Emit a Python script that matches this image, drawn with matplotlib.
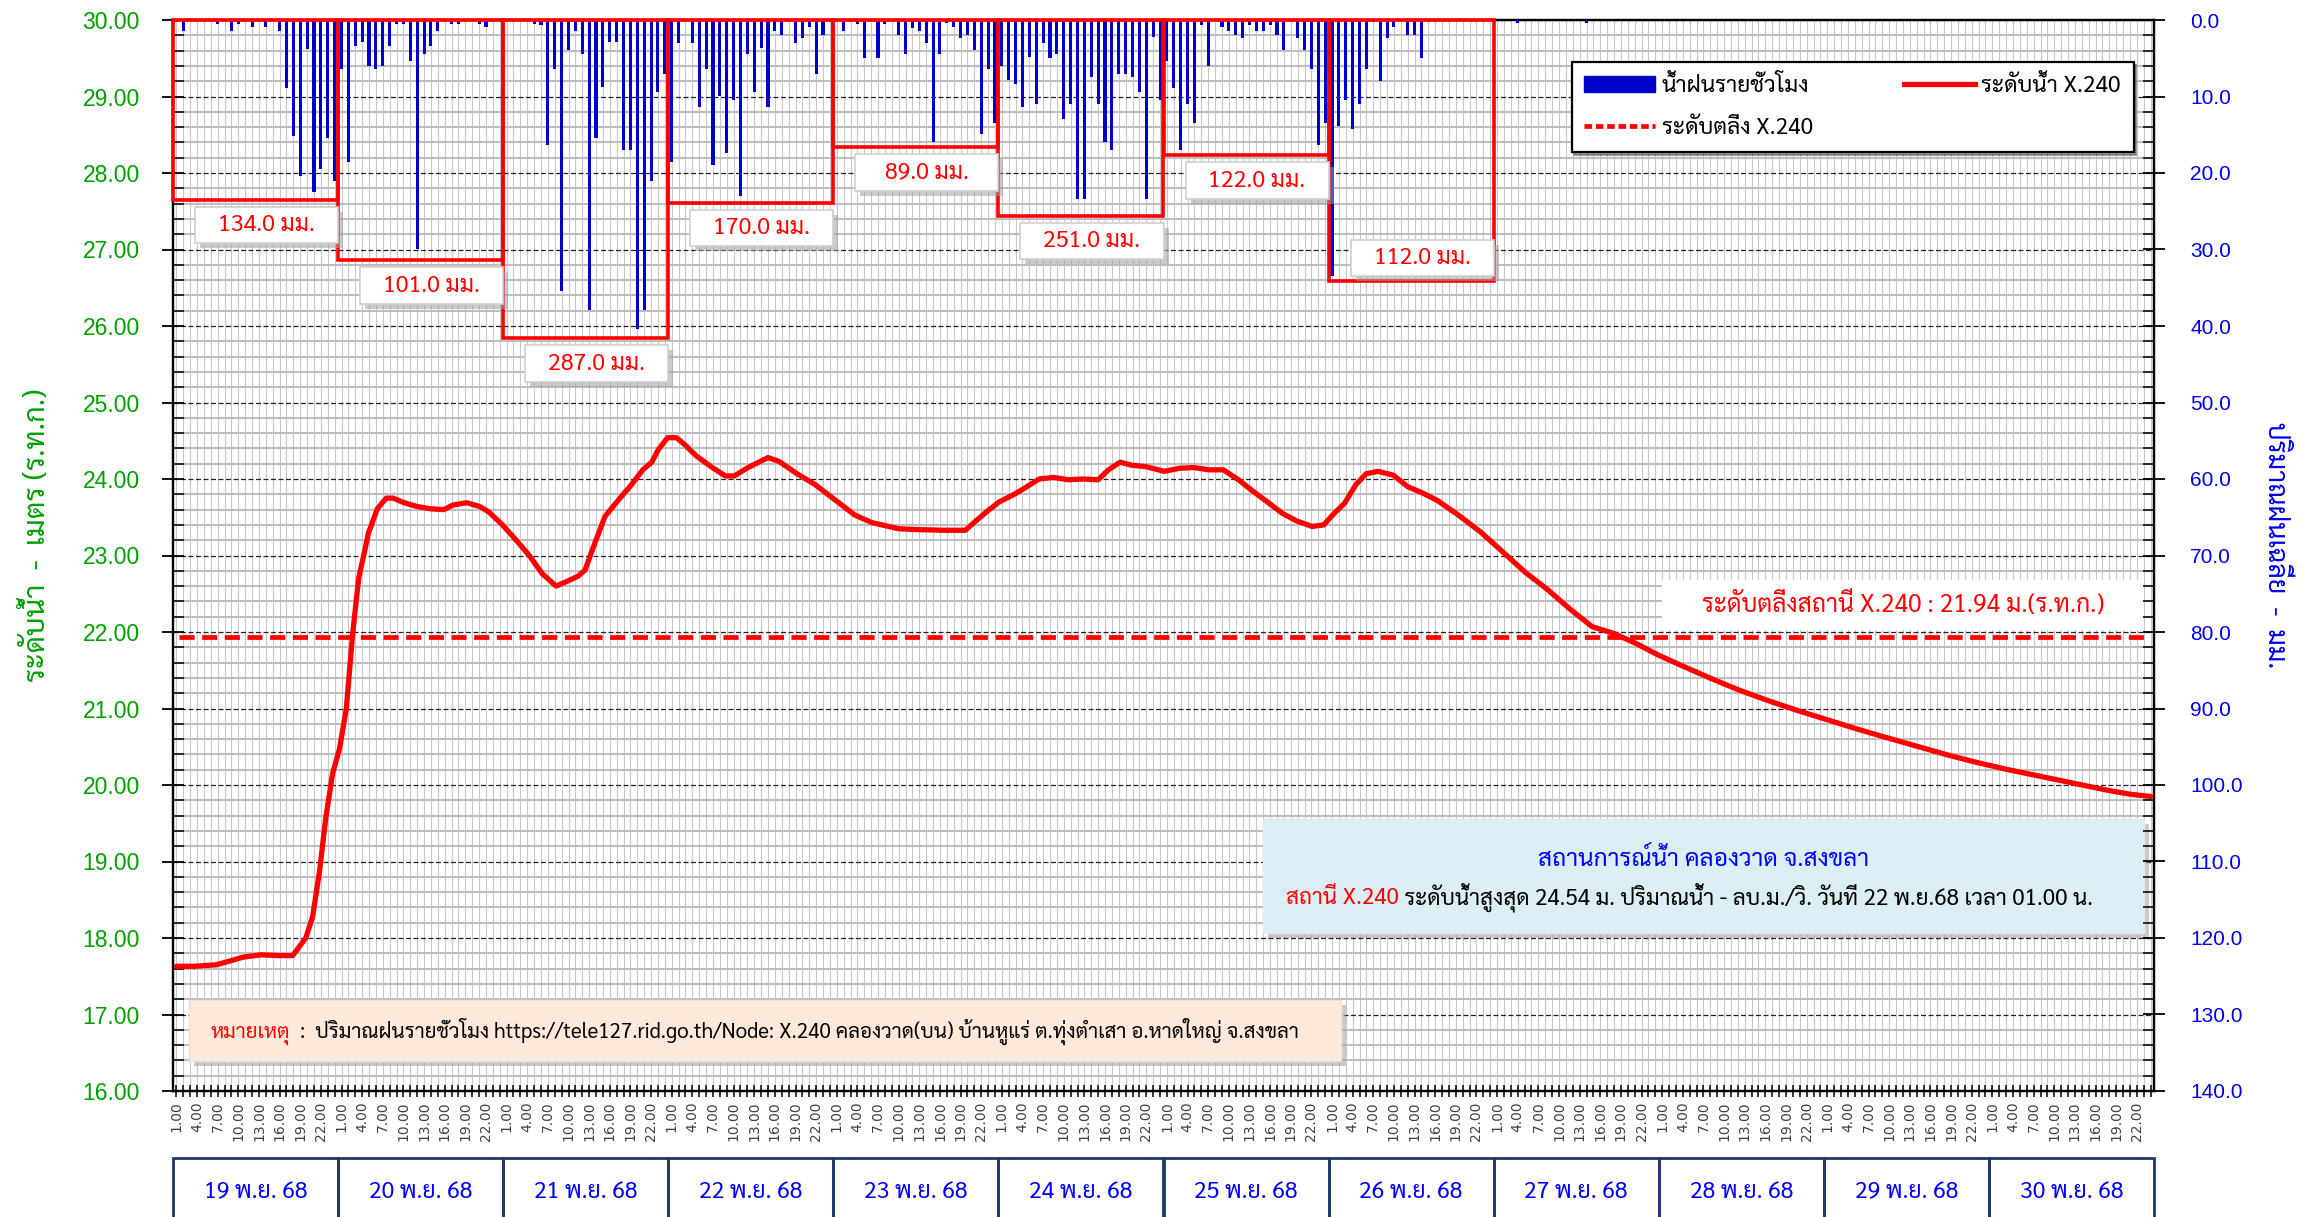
import numpy as np
import matplotlib
matplotlib.use("Agg")
import matplotlib.pyplot as plt
from matplotlib import font_manager as fm
from matplotlib.patches import Rectangle, Patch
from matplotlib.lines import Line2D
import matplotlib.transforms as mtransforms

# ---------------- data ----------------
day_labels = ['19 พ.ย. 68', '20 พ.ย. 68', '21 พ.ย. 68', '22 พ.ย. 68', '23 พ.ย. 68', '24 พ.ย. 68',
              '25 พ.ย. 68', '26 พ.ย. 68', '27 พ.ย. 68', '28 พ.ย. 68', '29 พ.ย. 68', '30 พ.ย. 68']
hour_labels = ['1.00', '4.00', '7.00', '10.00', '13.00', '16.00', '19.00', '22.00']

rain_19 = [0.3, 1.4, 0, 0, 0, 0, 0.5, 0, 1.4, 0.5, 0, 0.9, 0, 0.9, 0, 1.4, 8.9, 15.2, 20.4, 3.8, 22.5, 19.5, 15.4, 21.0]
rain_20 = [6.4, 18.5, 3.4, 2.9, 6.0, 6.4, 6.0, 3.4, 0.5, 0.5, 5.4, 30.0, 4.4, 3.4, 1.4, 0, 0.5, 0.5, 0, 0, 0.5, 0.9, 0, 0]
rain_21 = [0, 0, 0, 0, 0.5, 0.6, 16.4, 6.4, 35.4, 3.9, 1.4, 4.4, 37.9, 15.4, 8.8, 2.9, 2.9, 17.0, 17.0, 40.4, 37.9, 21.0, 9.4, 7.0]
rain_22 = [18.5, 3.0, 0, 3.0, 11.4, 6.4, 18.9, 9.9, 17.4, 10.4, 23.0, 4.5, 9.4, 3.7, 11.4, 1.4, 2.0, 0, 3.0, 2.4, 0.9, 7.0, 2.0, 0]
rain_23 = [0, 1.4, 0, 0.5, 5.0, 0, 5.0, 0.5, 0, 2.0, 4.5, 1.0, 1.4, 3.0, 15.9, 4.5, 0.4, 0.9, 2.4, 2.0, 3.9, 14.9, 6.4, 13.4]
rain_24 = [6.0, 7.9, 8.4, 11.4, 4.9, 11.0, 3.0, 5.0, 4.5, 12.9, 11.0, 23.4, 23.4, 7.5, 11.0, 15.9, 17.0, 7.0, 7.0, 7.5, 9.4, 23.4, 2.2, 10.4]
rain_25 = [5.4, 8.9, 17.0, 11.0, 13.5, 0.6, 6.0, 0, 0.9, 1.4, 2.0, 2.4, 0.6, 1.4, 1.4, 0.6, 2.0, 3.9, 0, 2.4, 3.9, 6.4, 16.4, 13.5]
rain_26 = [33.5, 13.9, 10.4, 14.3, 11.0, 6.4, 0.2, 8.0, 2.4, 0.9, 0, 2.0, 2.0, 5.0, 0, 0, 0, 0, 0, 0, 0, 0, 0, 0]
rain_27 = [0, 0, 0, 0.4, 0, 0, 0, 0, 0, 0, 0, 0, 0, 0.4, 0, 0, 0, 0, 0, 0, 0, 0, 0, 0]
rain_28 = [0] * 24
rain_29 = [0] * 24
rain_30 = [0] * 24

daily_totals = [134.0, 101.0, 287.0, 170.0, 89.0, 251.0, 122.0, 112.0]
box_depths = [23.5, 31.4, 41.6, 23.9, 16.6, 25.6, 17.7, 34.1]

level_hour = [0, 2.6, 5.8, 7.8, 9.7, 12.3, 14.9, 16.9, 17.8, 18.8, 19.8, 20.8, 21.7, 22.7, 23.7, 24.7,
              25.6, 26.5, 27.3, 27.9, 29.2, 30.5, 31.5, 33.1, 35, 37, 38.9, 40.2, 42.2, 44.1, 45.4,
              47.4, 49.3, 51.3, 53.2, 55.2, 56.5, 58.4, 59.4, 60.7, 62.3, 64.2, 66.2, 67.8, 69.1,
              70.1, 71.4, 72.7, 74, 75.6, 77.9, 79.8, 81.1, 83.1, 86, 87.6, 90.2, 92.8, 95.4, 98.6,
              101.1, 105, 107.2, 111.5, 114.7, 116.2, 117.9, 119.6, 121.8, 123.3, 125.4, 127.5,
              129.7, 131.8, 134.0, 135.5, 137.2, 138.9, 141, 143.6, 145.8, 147.9, 150.1, 152.2,
              154.4, 156.5, 158.6, 160.8, 162.9, 165.1, 166.8, 168.3, 169.8, 171.5, 173, 174.7,
              176.9, 179, 181.1, 183.3, 186.5, 189.7, 192.9, 196.1, 199.4, 202.6, 205.8, 209,
              212.2, 215.4, 218.6, 222.9, 227.2, 231.5, 235.8, 240.1, 244.4, 248.6, 252.9, 257.2,
              261.5, 265.8, 270.1, 274.4, 277.6, 280.8, 284, 287]
level_value = [17.63, 17.63, 17.65, 17.70, 17.75, 17.78, 17.77, 17.77, 17.88, 18.0, 18.28, 18.87,
               19.56, 20.15, 20.47, 21.0, 21.96, 22.71, 23.03, 23.29, 23.61, 23.75, 23.75, 23.69,
               23.64, 23.61, 23.60, 23.66, 23.69, 23.64, 23.57, 23.40, 23.21, 23.0, 22.76, 22.60,
               22.65, 22.73, 22.81, 23.13, 23.51, 23.72, 23.93, 24.12, 24.22, 24.39, 24.54, 24.54,
               24.44, 24.30, 24.15, 24.04, 24.04, 24.15, 24.28, 24.23, 24.07, 23.93, 23.75, 23.53,
               23.43, 23.35, 23.34, 23.33, 23.33, 23.45, 23.58, 23.70, 23.80, 23.88, 24.0, 24.02,
               23.99, 24.0, 23.99, 24.12, 24.22, 24.18, 24.16, 24.10, 24.14, 24.15, 24.12, 24.12,
               23.99, 23.84, 23.70, 23.55, 23.45, 23.38, 23.40, 23.55, 23.68, 23.93, 24.07, 24.10,
               24.05, 23.90, 23.82, 23.72, 23.52, 23.30, 23.04, 22.78, 22.55, 22.30, 22.07, 21.98,
               21.85, 21.70, 21.57, 21.40, 21.24, 21.10, 20.97, 20.85, 20.73, 20.62, 20.51, 20.40,
               20.30, 20.21, 20.13, 20.05, 19.99, 19.93, 19.88, 19.85]
bank_level = 21.94

# ---------------- fonts ----------------
available = set(f.name for f in fm.fontManager.ttflist)
thai_font = None
for p in ['Sarabun', 'Noto Sans Thai Looped', 'Noto Sans Thai', 'Loma']:
    if p in available:
        thai_font = p
        break
TH = [thai_font, 'DejaVu Sans'] if thai_font else ['DejaVu Sans']
k = 1.0 if thai_font == 'Sarabun' else 0.95

# ---------------- figure ----------------
W, H = 2311, 1217
fig = plt.figure(figsize=(W / 100, H / 100), dpi=100)
L, R, T, B = 173, 2154, 20, 1091
ax = fig.add_axes([L / W, 1 - B / H, (R - L) / W, (B - T) / H])
ax2 = ax.twinx()

n_hours = 24 * len(day_labels)
hours = np.arange(n_hours)
rain_all = np.concatenate([rain_19, rain_20, rain_21, rain_22, rain_23, rain_24, rain_25,
                           rain_26, rain_27, rain_28, rain_29, rain_30])

ax.set_xlim(-0.5, n_hours - 0.5)
ax.set_ylim(16, 30)
ax2.set_ylim(140, 0)

green = '#00A000'
blue = '#0000EE'

# grid & ticks
ax.set_axisbelow(True)
ax.set_xticks(np.arange(0, n_hours, 3))
ax.set_xticks(hours, minor=True)
ax.set_xticklabels(hour_labels * len(day_labels), rotation=90, fontsize=10,
                   family='DejaVu Sans', color='#404040')
ax.set_yticks(np.arange(16, 30.01, 1))
ax.set_yticks(np.arange(16, 30.01, 0.2), minor=True)
ax.set_yticklabels(['%.2f' % v for v in np.arange(16, 30.01, 1)], fontsize=16.5,
                   family='Liberation Sans', color=green)
ax.grid(which='minor', axis='x', color='#C8C8C8', lw=0.8)
ax.grid(which='major', axis='x', color='#C8C8C8', lw=0.8)
ax.grid(which='minor', axis='y', color='#BEBEBE', lw=1.5)
ax.grid(which='major', axis='y', color='#222222', lw=0.9, ls=(0, (4, 2)))
ax.tick_params(axis='x', which='both', direction='inout', length=9, width=1.1, pad=3)
ax.tick_params(axis='y', which='major', direction='inout', length=16, width=1.3, pad=16)
ax.tick_params(axis='y', which='minor', direction='in', length=8, width=1.1)

ax2.set_yticks(np.arange(0, 140.1, 10))
ax2.set_yticks(np.arange(0, 140.1, 2), minor=True)
ax2.set_yticklabels(['%.1f' % v for v in np.arange(0, 140.1, 10)], fontsize=15,
                    family='Liberation Sans', color=blue)
ax2.tick_params(axis='y', which='major', direction='inout', length=16, width=1.3, pad=18)
ax2.tick_params(axis='y', which='minor', direction='in', length=8, width=1.1)
for a in (ax, ax2):
    for s in a.spines.values():
        s.set_color('black')
        s.set_linewidth(1.6)

# rain bars
ax2.bar(hours, rain_all, width=0.45, color='#0000CC', zorder=3)

# daily boxes and labels
for i, (tot, dep) in enumerate(zip(daily_totals, box_depths)):
    x0 = i * 24 - 0.5
    ax2.add_patch(Rectangle((x0, 0), 24, dep, fill=False, ec='#FF0000', lw=2.6,
                            zorder=4, clip_on=False))
    lx = x0 + 3.2
    lw_ = 20.8
    lh = 4.8
    top = dep + 0.9 if i < len(daily_totals) - 1 else dep - 5.4
    sh = mtransforms.offset_copy(ax2.transData, fig=fig, x=5, y=-5, units='dots')
    ax2.add_patch(Rectangle((lx, top), lw_, lh, transform=sh, fc='#A0A0A0', ec='none',
                            alpha=0.55, zorder=5))
    ax2.add_patch(Rectangle((lx, top), lw_, lh, fc='white', ec='#D0D0D0', lw=1.2, zorder=6))
    ax2.text(lx + lw_ / 2, top + lh / 2, '%.1f มม.' % tot, color='#FF0000', fontsize=16.7 * k,
             family=TH, ha='center', va='center', zorder=7)

# water level and bank level
ax.plot(level_hour, level_value, color='#FF0000', lw=3.8, solid_joinstyle='round',
        solid_capstyle='round', zorder=5)
ax.axhline(bank_level, xmin=0.003, xmax=0.995, color='#FF0000', lw=3.4,
           dashes=(3.2, 1.6), zorder=5)

# bank label box
ax.add_patch(Rectangle((216.0, 22.03), 70.1, 0.65, fc='white', ec='none', zorder=3))
ax.text(251.0, 22.355, 'ระดับตลิ่งสถานี X.240 : 21.94 ม.(ร.ท.ก.)', color='#FF0000',
        fontsize=17.7 * k, family=TH, ha='center', va='center', zorder=4)


def two_color(x, y, first, second, c1, c2, size, center=None):
    """Draw two texts on one baseline, first in colour c1, then c2."""
    t1 = ax.text(x, y, first, color=c1, fontsize=size, family=TH, ha='left',
                 va='baseline', zorder=5)
    fig.canvas.draw()
    r = fig.canvas.get_renderer()
    w1 = t1.get_window_extent(r).width
    tr = mtransforms.offset_copy(ax.transData, fig=fig, x=w1, y=0, units='dots')
    t2 = ax.text(x, y, second, color=c2, fontsize=size, family=TH, ha='left',
                 va='baseline', zorder=5, transform=tr)
    if center is not None:
        fig.canvas.draw()
        w2 = t2.get_window_extent(r).width
        xc_pix = ax.transData.transform((center, y))[0]
        x0_pix = xc_pix - (w1 + w2) / 2
        xnew = ax.transData.inverted().transform((x0_pix, 0))[0]
        t1.set_x(xnew)
        t2.set_x(xnew)
    return t1, t2


# info box
sh1 = mtransforms.offset_copy(ax.transData, fig=fig, x=5, y=-5, units='dots')
ax.add_patch(Rectangle((158.0, 18.06), 128.1, 1.50, transform=sh1, fc='#A0A0A0', ec='none',
                       alpha=0.55, zorder=3))
ax.add_patch(Rectangle((158.0, 18.06), 128.1, 1.50, fc='#DAEEF3', ec='#E8E8E8', lw=1,
                       zorder=4))
ax.text(222.0, 19.02, 'สถานการณ์น้ำ คลองวาด จ.สงขลา', color='#0000FF', fontsize=17.6 * k,
        family=TH, ha='center', va='center', zorder=5)
two_color(161.0, 18.44, 'สถานี X.240',
          ' ระดับน้ำสูงสุด 24.54 ม. ปริมาณน้ำ - ลบ.ม./วิ. วันที่ 22 พ.ย.68 เวลา 01.00 น.',
          '#FF0000', 'black', 16.2 * k, center=220.0)

# note box
ax.add_patch(Rectangle((1.8, 16.39), 167.5, 0.80, transform=sh1, fc='#A0A0A0', ec='none',
                       alpha=0.55, zorder=3))
ax.add_patch(Rectangle((1.8, 16.39), 167.5, 0.80, fc='#FDE9D9', ec='#F0E0D8', lw=1, zorder=4))
two_color(5.0, 16.70, 'หมายเหตุ',
          '  :  ปริมาณฝนรายชั่วโมง https://tele127.rid.go.th/Node: X.240 คลองวาด(บน) '
          'บ้านหูแร่ ต.ทุ่งตำเสา อ.หาดใหญ่ จ.สงขลา',
          '#FF0000', 'black', 14.8 * k)

# legend
handles = [Patch(fc='#0000CC', ec='#0000CC'),
           Line2D([], [], color='#FF0000', lw=3.4, dashes=(1.6, 0.8)),
           Line2D([], [], color='#FF0000', lw=3.8)]
labels = ['น้ำฝนรายชั่วโมง', 'ระดับตลิ่ง X.240', 'ระดับน้ำ X.240']
leg = ax2.legend(handles, labels, ncol=2, loc='upper right', bbox_to_anchor=(0.9955, 0.9715),
                 prop={'family': TH, 'size': 16.4 * k}, frameon=True, fancybox=False,
                 shadow=True, handlelength=3.1, handleheight=0.7, columnspacing=4.0,
                 labelspacing=0.85, borderpad=0.56, handletextpad=0.3)
leg.get_frame().set_edgecolor('black')
leg.get_frame().set_linewidth(1.6)
leg.set_zorder(10)

# date boxes below axis
bt = mtransforms.blended_transform_factory(ax.transData, ax.transAxes)
y_top = -(1158 - B) / (B - T)
for i, lab in enumerate(day_labels):
    ax.add_patch(Rectangle((i * 24 - 0.5, y_top - 0.2), 24, 0.2, transform=bt, fill=False,
                           ec='#1F3864', lw=2, clip_on=False))
    ax.text(i * 24 + 11.5, -(1192 - B) / (B - T), lab, transform=bt, color='#0000FF',
            fontsize=16.6 * k, family=TH, ha='center', va='center', clip_on=False)

# axis titles
fig.text(37 / W, 1 - 535 / H, 'ระดับน้ำ  -  เมตร (ร.ท.ก.)', rotation=90, color=green,
         fontsize=21 * k, family=TH, ha='center', va='center')
fig.text(2275 / W, 1 - 545 / H, 'ปริมาณฝนเฉลี่ย  -  มม.', rotation=270, color=blue,
         fontsize=19.4 * k, family=TH, ha='center', va='center')

fig.savefig('out.png', dpi=100)
